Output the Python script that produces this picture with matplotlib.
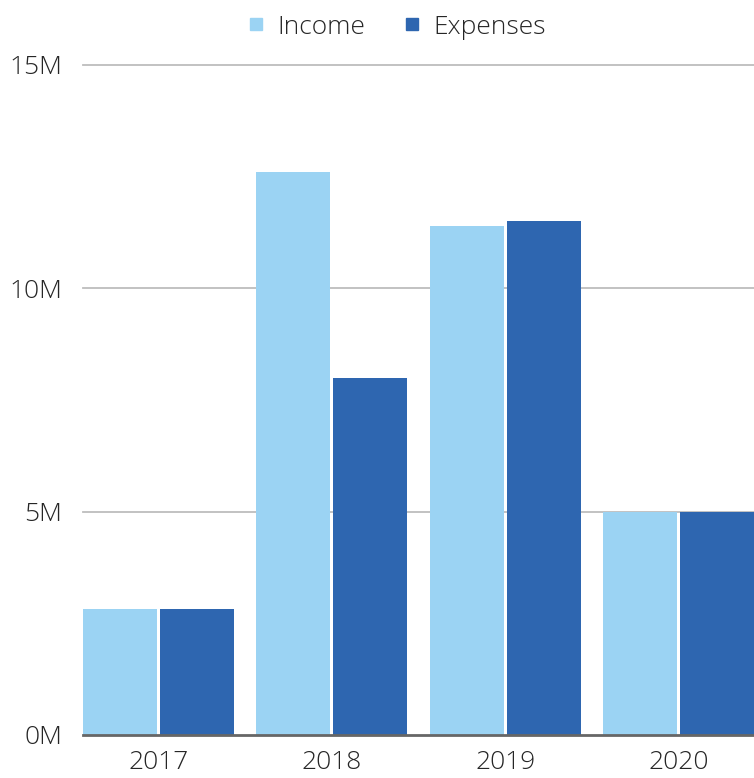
import matplotlib
matplotlib.use("Agg")
import matplotlib.pyplot as plt
from matplotlib.lines import Line2D
import numpy as np

years = ["2017", "2018", "2019", "2020"]
income = [2.82, 12.6, 11.4, 5.0]      # millions
expenses = [2.82, 8.0, 11.5, 5.0]     # millions
yticks = [0, 5, 10, 15]
ytick_labels = ["0M", "5M", "10M", "15M"]

c_income = "#9BD3F3"
c_exp = "#2E66B0"
txt = "#262626"

plt.rcParams['font.family'] = ['Open Sans', 'DejaVu Sans']
plt.rcParams['font.weight'] = 'light'

fig = plt.figure(figsize=(7.54, 7.78), dpi=100)
ax = fig.add_axes([83/754, 1-735/778, 1-83/754, (735-65)/778])

x = np.arange(len(years))
w = 0.427
off = 0.222
ax.bar(x - off, income, w, color=c_income, zorder=3)
ax.bar(x + off, expenses, w, color=c_exp, zorder=3)

ax.set_xlim(-0.435, 3.434)
ax.set_ylim(0, 15)
for v in yticks[1:]:
    ax.axhline(v, color="#BDBDBD", lw=1.3, zorder=1, clip_on=False)
ax.axhline(0, color="#666666", lw=2, zorder=4, clip_on=False)

for s in ax.spines.values():
    s.set_visible(False)
ax.set_yticks(yticks)
ax.set_yticklabels(ytick_labels)
ax.set_xticks(x)
ax.set_xticklabels(years)
ax.tick_params(axis='both', length=0, labelsize=19, colors=txt)
ax.tick_params(axis='y', pad=15)
ax.tick_params(axis='x', pad=11)

handles = [Line2D([], [], marker='s', ls='', color=c_income, markersize=9),
           Line2D([], [], marker='s', ls='', color=c_exp, markersize=9)]
fig.legend(handles, ["Income", "Expenses"], loc='center', bbox_to_anchor=(0.523, 1-27/778),
           ncol=2, frameon=False, fontsize=19, handletextpad=0.3, columnspacing=1.27,
           labelcolor=txt, handlelength=1.0)

fig.savefig("out.png", dpi=100)
